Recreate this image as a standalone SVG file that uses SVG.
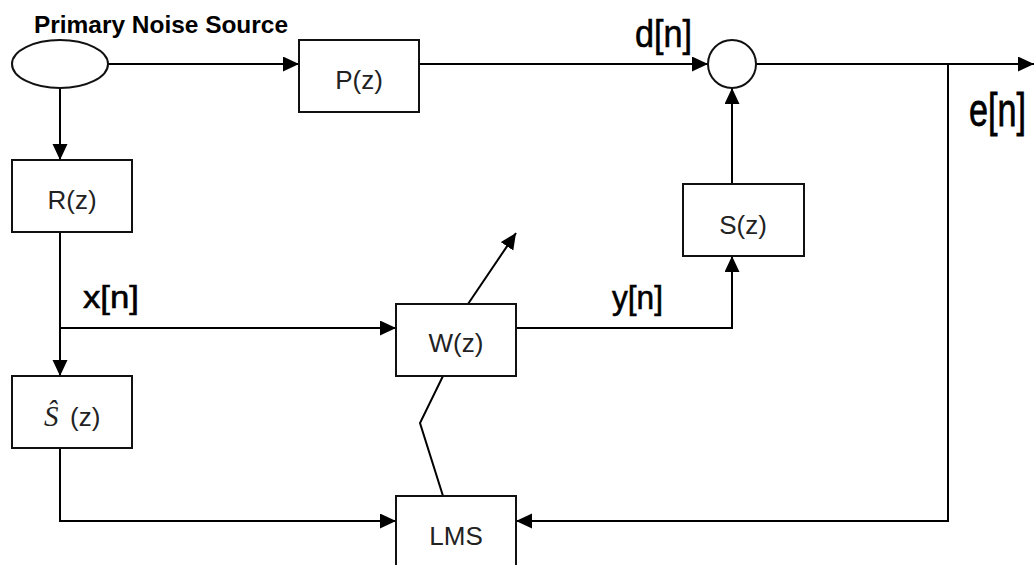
<svg xmlns="http://www.w3.org/2000/svg" width="1034" height="565" viewBox="0 0 1034 565">
<defs>
<marker id="ah" markerUnits="userSpaceOnUse" markerWidth="18" markerHeight="16" refX="16" refY="7.5" orient="auto">
<path d="M0,0 L16,7.5 L0,15 Z" fill="#000"/>
</marker>
<style>
.box{fill:#fff;stroke:#111;stroke-width:2}
.bt{font-family:"Liberation Sans",Arial,sans-serif;font-size:26px;fill:#222;text-anchor:middle}
.lbl{font-family:"Liberation Sans",Arial,sans-serif;fill:#000;stroke:#000;stroke-width:0.6}
.ln{fill:none;stroke:#000;stroke-width:2}
</style>
</defs>
<rect width="1034" height="565" fill="#fff"/>
<g id="connectors">
<path class="ln" d="M108,64 H299" marker-end="url(#ah)"/>
<path class="ln" d="M419,64 H708" marker-end="url(#ah)"/>
<path class="ln" d="M756,64 H1034" marker-end="url(#ah)"/>
<path class="ln" d="M948,64 V521 H516" marker-end="url(#ah)"/>
<path class="ln" d="M60,88 V160" marker-end="url(#ah)"/>
<path class="ln" d="M60,232 V376" marker-end="url(#ah)"/>
<path class="ln" d="M60,328 H396" marker-end="url(#ah)"/>
<path class="ln" d="M516,328 H732 V256" marker-end="url(#ah)"/>
<path class="ln" d="M732,184 V88" marker-end="url(#ah)"/>
<path class="ln" d="M60,448 V521 H396" marker-end="url(#ah)"/>
<path class="ln" d="M443,496 L420,423 L443,376"/>
<path class="ln" d="M468,304 L516,233" marker-end="url(#ah)"/>
</g>
<g id="source">
<ellipse cx="60" cy="64" rx="48" ry="24" fill="#fff" stroke="#111" stroke-width="2"/>
<text x="34" y="33" font-family="'Liberation Sans',Arial,sans-serif" font-size="24" font-weight="bold" textLength="254" lengthAdjust="spacingAndGlyphs">Primary Noise Source</text>
</g>
<g id="P">
<rect class="box" x="299" y="40" width="120" height="72"/>
<text class="bt" x="359" y="89">P(z)</text>
</g>
<g id="sum">
<circle cx="732" cy="64" r="24" fill="#fff" stroke="#111" stroke-width="2"/>
</g>
<g id="R">
<rect class="box" x="12" y="160" width="120" height="72"/>
<text class="bt" x="72" y="209">R(z)</text>
</g>
<g id="Shat">
<rect class="box" x="12" y="376" width="120" height="72"/>
<text x="44" y="426" font-family="'Liberation Serif','Times New Roman',serif" font-style="italic" font-size="29" fill="#222">Ŝ</text>
<text x="70" y="426" font-family="'Liberation Sans',Arial,sans-serif" font-size="26" fill="#222">(z)</text>
</g>
<g id="W">
<rect class="box" x="396" y="304" width="120" height="72"/>
<text class="bt" x="456" y="352">W(z)</text>
</g>
<g id="S">
<rect class="box" x="683" y="184" width="121" height="72"/>
<text class="bt" x="743" y="234">S(z)</text>
</g>
<g id="LMS">
<rect class="box" x="396" y="496" width="120" height="80"/>
<text class="bt" x="456" y="545">LMS</text>
</g>
<g id="labels">
<text class="lbl" x="635" y="47" font-size="38" textLength="57" lengthAdjust="spacingAndGlyphs">d[n]</text>
<text class="lbl" transform="translate(969,126) scale(0.95,1.3)" x="0" y="0" font-size="36">e[n]</text>
<text class="lbl" x="83" y="308" font-size="32" textLength="56" lengthAdjust="spacingAndGlyphs">x[n]</text>
<text class="lbl" x="612" y="309" font-size="34" textLength="51" lengthAdjust="spacingAndGlyphs">y[n]</text>
</g>
</svg>
